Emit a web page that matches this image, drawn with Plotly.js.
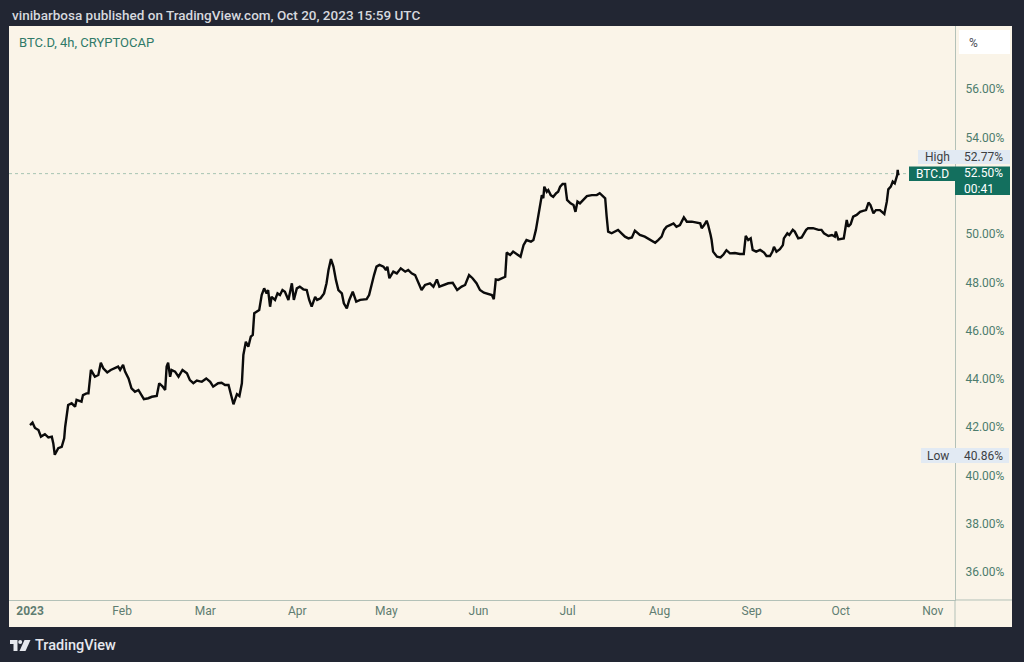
<!DOCTYPE html>
<html><head><meta charset="utf-8">
<script src="https://cdn.plot.ly/plotly-3.0.1.min.js"></script>
<style>html,body{margin:0;padding:0;background:#222633;overflow:hidden}#chart{width:1024px;height:662px}</style>
</head><body><div id="chart"></div>
<script>
const dates = [
"2023-01-01 00:00","2023-01-01 20:00","2023-01-02 16:00","2023-01-03 20:00","2023-01-04 16:00","2023-01-06 00:00","2023-01-07 04:00","2023-01-08 08:00","2023-01-08 20:00","2023-01-09 08:00",
"2023-01-10 12:00","2023-01-11 16:00","2023-01-12 12:00","2023-01-12 20:00","2023-01-13 20:00","2023-01-15 00:00","2023-01-16 04:00","2023-01-16 16:00","2023-01-18 08:00","2023-01-18 20:00",
"2023-01-20 00:00","2023-01-20 16:00","2023-01-21 12:00","2023-01-22 08:00","2023-01-22 20:00","2023-01-24 00:00","2023-01-24 20:00","2023-01-25 16:00","2023-01-27 00:00","2023-01-28 04:00",
"2023-01-29 16:00","2023-01-30 16:00","2023-01-31 08:00","2023-02-01 08:00","2023-02-02 00:00","2023-02-03 04:00","2023-02-04 04:00","2023-02-05 08:00","2023-02-06 12:00","2023-02-07 16:00",
"2023-02-08 08:00","2023-02-09 20:00","2023-02-11 00:00","2023-02-12 16:00","2023-02-13 12:00","2023-02-14 16:00","2023-02-15 12:00","2023-02-16 00:00","2023-02-16 12:00","2023-02-17 04:00",
"2023-02-17 16:00","2023-02-18 20:00","2023-02-20 00:00","2023-02-21 08:00","2023-02-22 20:00","2023-02-23 20:00","2023-02-25 00:00","2023-02-26 04:00","2023-02-27 20:00","2023-03-01 08:00",
"2023-03-02 16:00","2023-03-03 16:00","2023-03-05 08:00","2023-03-06 12:00","2023-03-07 16:00","2023-03-08 20:00","2023-03-09 12:00","2023-03-10 12:00","2023-03-11 16:00","2023-03-12 12:00",
"2023-03-13 08:00","2023-03-13 20:00","2023-03-14 16:00","2023-03-15 12:00","2023-03-16 08:00","2023-03-17 00:00","2023-03-17 12:00","2023-03-18 08:00","2023-03-19 04:00","2023-03-20 00:00",
"2023-03-20 20:00","2023-03-21 16:00","2023-03-22 04:00","2023-03-22 20:00","2023-03-23 08:00","2023-03-24 12:00","2023-03-25 08:00","2023-03-26 04:00","2023-03-27 00:00","2023-03-27 20:00",
"2023-03-29 00:00","2023-03-30 04:00","2023-03-30 20:00","2023-03-31 20:00","2023-04-01 20:00","2023-04-03 00:00","2023-04-04 04:00","2023-04-05 00:00","2023-04-05 20:00","2023-04-07 00:00",
"2023-04-07 16:00","2023-04-08 20:00","2023-04-10 00:00","2023-04-10 20:00","2023-04-11 12:00","2023-04-12 08:00","2023-04-13 04:00","2023-04-14 00:00","2023-04-14 20:00","2023-04-16 00:00",
"2023-04-16 16:00","2023-04-17 16:00","2023-04-18 12:00","2023-04-19 16:00","2023-04-20 20:00","2023-04-22 04:00","2023-04-23 04:00","2023-04-24 08:00","2023-04-25 04:00","2023-04-26 00:00",
"2023-04-26 20:00","2023-04-27 16:00","2023-04-28 16:00","2023-04-30 00:00","2023-04-30 20:00","2023-05-01 08:00","2023-05-02 00:00","2023-05-03 08:00","2023-05-04 12:00","2023-05-05 20:00",
"2023-05-07 08:00","2023-05-08 08:00","2023-05-09 12:00","2023-05-10 16:00","2023-05-11 16:00","2023-05-12 20:00","2023-05-14 00:00","2023-05-15 16:00","2023-05-16 20:00","2023-05-18 00:00",
"2023-05-18 20:00","2023-05-20 04:00","2023-05-21 20:00","2023-05-23 08:00","2023-05-24 20:00","2023-05-26 08:00","2023-05-27 12:00","2023-05-28 20:00","2023-05-30 00:00","2023-05-31 08:00",
"2023-06-01 12:00","2023-06-02 20:00","2023-06-04 08:00","2023-06-05 12:00","2023-06-06 04:00","2023-06-06 20:00","2023-06-07 16:00","2023-06-08 20:00","2023-06-10 00:00","2023-06-10 12:00",
"2023-06-11 16:00","2023-06-12 16:00","2023-06-14 08:00","2023-06-15 04:00","2023-06-16 04:00","2023-06-17 04:00","2023-06-18 16:00","2023-06-19 12:00","2023-06-20 08:00","2023-06-21 04:00",
"2023-06-21 16:00","2023-06-22 08:00","2023-06-22 20:00","2023-06-23 04:00","2023-06-24 00:00","2023-06-24 12:00","2023-06-25 08:00","2023-06-26 04:00","2023-06-27 04:00","2023-06-27 20:00",
"2023-06-28 12:00","2023-06-29 08:00","2023-06-30 04:00","2023-06-30 20:00","2023-07-02 00:00","2023-07-03 00:00","2023-07-03 16:00","2023-07-04 08:00","2023-07-05 04:00","2023-07-06 08:00",
"2023-07-07 12:00","2023-07-09 04:00","2023-07-10 20:00","2023-07-11 20:00","2023-07-13 00:00","2023-07-13 16:00","2023-07-14 04:00","2023-07-14 16:00","2023-07-15 20:00","2023-07-17 00:00",
"2023-07-18 00:00","2023-07-19 04:00","2023-07-20 08:00","2023-07-21 12:00","2023-07-22 16:00","2023-07-23 16:00","2023-07-24 12:00","2023-07-25 08:00","2023-07-27 00:00","2023-07-28 20:00",
"2023-07-30 12:00","2023-07-31 12:00","2023-08-01 16:00","2023-08-02 12:00","2023-08-03 08:00","2023-08-04 12:00","2023-08-05 16:00","2023-08-06 16:00","2023-08-07 20:00","2023-08-09 04:00",
"2023-08-10 04:00","2023-08-11 20:00","2023-08-13 12:00","2023-08-14 16:00","2023-08-15 04:00","2023-08-16 00:00","2023-08-16 20:00","2023-08-17 08:00","2023-08-18 04:00","2023-08-18 12:00",
"2023-08-19 00:00","2023-08-20 08:00","2023-08-21 12:00","2023-08-22 12:00","2023-08-23 12:00","2023-08-24 16:00","2023-08-26 08:00","2023-08-28 00:00","2023-08-29 08:00","2023-08-30 00:00",
"2023-08-30 20:00","2023-08-31 16:00","2023-09-01 08:00","2023-09-02 12:00","2023-09-03 20:00","2023-09-05 04:00","2023-09-06 00:00","2023-09-07 04:00","2023-09-08 00:00","2023-09-08 12:00",
"2023-09-09 08:00","2023-09-10 12:00","2023-09-11 12:00","2023-09-11 20:00","2023-09-13 00:00","2023-09-13 16:00","2023-09-14 20:00","2023-09-15 12:00","2023-09-16 16:00","2023-09-17 20:00",
"2023-09-19 08:00","2023-09-20 00:00","2023-09-21 16:00","2023-09-23 12:00","2023-09-24 12:00","2023-09-25 08:00","2023-09-26 20:00","2023-09-28 00:00","2023-09-29 00:00","2023-09-29 08:00",
"2023-09-30 04:00","2023-10-01 08:00","2023-10-02 00:00","2023-10-03 00:00","2023-10-03 12:00","2023-10-04 08:00","2023-10-05 04:00","2023-10-06 08:00","2023-10-07 12:00","2023-10-08 12:00",
"2023-10-09 12:00","2023-10-10 08:00","2023-10-11 00:00","2023-10-12 00:00","2023-10-12 20:00","2023-10-14 04:00","2023-10-15 16:00","2023-10-16 12:00","2023-10-17 00:00","2023-10-17 20:00",
"2023-10-18 12:00","2023-10-19 04:00","2023-10-19 16:00","2023-10-20 00:00","2023-10-20 04:00","2023-10-20 08:00","2023-10-20 12:00"
];
const btcd = [
42.09,42.19,41.97,41.88,41.61,41.71,41.58,41.61,41.33,40.86,
41.13,41.19,41.54,42.02,42.92,42.99,42.85,43.13,43.06,43.33,
43.40,43.40,44.37,44.16,44.09,44.16,44.67,44.44,44.27,44.37,
44.44,44.51,44.37,44.58,44.30,44.02,43.61,43.47,43.54,43.33,
43.16,43.20,43.26,43.29,43.82,43.68,43.54,44.51,44.67,44.09,
44.37,44.30,44.09,44.37,44.23,43.95,43.82,43.93,43.88,44.02,
43.88,43.68,43.82,43.84,43.75,43.75,43.47,42.95,43.37,43.29,
43.82,44.99,45.54,45.33,45.75,45.82,46.72,46.78,46.85,47.47,
47.75,47.54,47.68,46.99,47.40,47.27,47.54,47.47,47.68,47.61,
47.27,47.96,47.27,47.75,47.82,47.71,47.68,47.27,46.99,47.40,
47.27,47.34,47.54,47.96,48.51,48.96,48.65,48.10,47.68,47.54,
47.13,46.92,47.27,47.61,47.20,47.27,47.27,47.30,47.47,47.96,
48.30,48.65,48.72,48.65,48.51,48.65,48.17,48.44,48.37,48.58,
48.44,48.51,48.37,48.30,48.02,47.68,47.89,47.96,47.82,48.12,
47.82,47.89,47.96,47.98,47.68,47.82,47.89,48.30,48.17,47.96,
47.68,47.57,47.52,47.47,47.30,48.12,48.10,48.17,48.23,49.23,
49.13,49.27,49.13,49.06,49.54,49.75,49.68,49.75,50.17,50.72,
51.13,51.61,51.48,51.96,51.75,51.82,51.61,51.54,51.69,51.75,
51.96,52.07,52.07,51.41,51.27,51.20,50.92,51.34,51.27,51.41,
51.57,51.61,51.61,51.69,51.54,51.48,50.72,50.10,50.03,50.10,
50.17,50.03,49.89,49.82,49.86,50.14,50.03,49.96,49.89,49.75,
49.64,49.75,49.89,50.17,50.30,50.37,50.44,50.30,50.37,50.69,
50.51,50.51,50.47,50.44,50.24,50.37,50.55,50.37,49.96,49.75,
49.27,49.06,49.03,49.15,49.33,49.20,49.21,49.17,49.17,49.92,
49.75,49.82,49.34,49.27,49.34,49.23,49.09,49.09,49.27,49.47,
49.27,49.37,49.54,49.82,50.03,49.96,50.17,50.10,49.82,49.86,
50.17,50.24,50.24,50.17,50.17,50.03,49.92,49.96,49.89,50.10,
49.78,49.82,49.82,50.58,50.30,50.41,50.72,50.79,50.92,50.96,
50.99,51.30,51.20,50.86,50.99,50.99,50.83,51.34,51.85,51.96,
52.17,52.10,52.27,52.44,52.66,52.45,52.50
];
const monthTicks = ["2023-01-01","2023-02-01","2023-03-01","2023-04-01","2023-05-01","2023-06-01","2023-07-01","2023-08-01","2023-09-01","2023-10-01","2023-11-01"];
const monthLabels = ["<b>2023</b>","Feb","Mar","Apr","May","Jun","Jul","Aug","Sep","Oct","Nov"];
const priceTicks = [36,38,40,42,44,46,48,50,54,56];
const priceLabels = ["36.00%","38.00%","40.00%","42.00%","44.00%","46.00%","48.00%","50.00%","54.00%","56.00%"];
const lastValueLabel = "52.50%";
const lastValue = 52.50;
const countdownLabel = "00:41";
const highLabel = "52.77%";
const lowLabel = "40.86%";
const symbolName = "BTC.D";
const symbolInfo = "BTC.D, 4h, CRYPTOCAP";
const headerText = "vinibarbosa published on TradingView.com, Oct 20, 2023 15:59 UTC";
const brandText = "TradingView";

const L = 9, T = 26, W = 946, H = 574;
const fx = X => (X - L) / W;
const fy = Y => (T + H - Y) / H;
const FONT = "Roboto, 'Open Sans', sans-serif";
const pale = "#e2eaf3", teal = "#136f5e", cream = "#faf4e8", sep = "#b3c1b8";

function rect(x0, y0, x1, y1, fill, layer) {
  return {type: "rect", xref: "paper", yref: "paper", x0: fx(x0), x1: fx(x1), y0: fy(y1), y1: fy(y0),
    fillcolor: fill, line: {width: 0}, layer: layer || "above"};
}
function pathShape(pts, fill) {
  const d = pts.map((p, i) => (i ? "L" : "M") + fx(p[0]) + "," + fy(p[1])).join(" ") + " Z";
  return {type: "path", xref: "paper", yref: "paper", path: d, fillcolor: fill, line: {width: 0}, layer: "above"};
}
function txt(x, y, text, opts) {
  return Object.assign({xref: "paper", yref: "paper", x: fx(x), y: fy(y), text: text, showarrow: false,
    xanchor: "left", yanchor: "middle", font: {family: FONT, size: 12, color: "#3c4043"}}, opts || {});
}

const shapes = [
  rect(9, 26, 1012, 627, cream, "below"),
  {type: "line", xref: "paper", yref: "paper", x0: fx(955), x1: fx(955), y0: fy(627), y1: fy(600), line: {color: sep, width: 1}},
  {type: "line", xref: "paper", yref: "paper", x0: fx(955), x1: fx(1012), y0: fy(600), y1: fy(600), line: {color: sep, width: 1}},
  {type: "line", xref: "paper", yref: "y", x0: 0, x1: 1, y0: lastValue, y1: lastValue, line: {color: "#a6c4b3", width: 1, dash: "dot"}, layer: "below"},
  rect(959, 30, 1010, 54, "#ffffff"),
  rect(918, 150, 955, 164, pale),
  rect(955, 150, 1010, 164, pale),
  rect(909, 166.5, 955, 181, teal),
  rect(955, 166.5, 1010, 195, teal),
  rect(921, 448, 955, 463, pale),
  rect(955, 448, 1009, 463, pale),
  pathShape([[10,640],[17.5,640],[17.5,651],[13.5,651],[13.5,644],[10,644]], "#e6e8ee"),
  {type: "circle", xref: "paper", yref: "paper", x0: fx(18.2), x1: fx(22.2), y0: fy(644), y1: fy(640), fillcolor: "#e6e8ee", line: {width: 0}, layer: "above"},
  pathShape([[24.5,640],[30.5,640],[25.5,651],[19.5,651]], "#e6e8ee")
];

const annotations = [
  txt(10, 15, headerText, {font: {family: FONT, size: 13.5, color: "#d6d8de", weight: 500}}),
  txt(17, 43, symbolInfo, {font: {family: FONT, size: 13, color: "#2f7a68"}}),
  txt(967, 43, "%", {font: {family: FONT, size: 12, color: "#4a4e55"}}),
  txt(937, 157, "High", {xanchor: "center", font: {family: FONT, size: 12, color: "#3c4043"}}),
  txt(962, 157, highLabel, {font: {family: FONT, size: 12, color: "#3c4043"}}),
  txt(932, 174, symbolName, {xanchor: "center", font: {family: FONT, size: 12, color: "#ffffff"}}),
  txt(962, 181, lastValueLabel + "<br>" + countdownLabel, {align: "left", font: {family: FONT, size: 12, color: "#ffffff"}}),
  txt(938, 456, "Low", {xanchor: "center", font: {family: FONT, size: 12, color: "#3c4043"}}),
  txt(962, 456, lowLabel, {font: {family: FONT, size: 12, color: "#3c4043"}}),
  txt(33, 645, brandText, {font: {family: FONT, size: 14.5, color: "#e6e8ee", weight: 500}})
];

const trace = {type: "scatter", mode: "lines", x: dates, y: btcd,
  line: {color: "#0b0b0b", width: 2.4}, hoverinfo: "skip", showlegend: false};

const layout = {
  width: 1024, height: 662,
  margin: {l: L, r: 1024 - (L + W), t: T, b: 662 - (T + H), pad: 0},
  paper_bgcolor: "#222633", plot_bgcolor: cream,
  showlegend: false,
  xaxis: {type: "date", range: ["2022-12-24 22:00", "2023-11-08 11:00"], tickmode: "array",
    tickvals: monthTicks, ticktext: monthLabels, showgrid: false, zeroline: false,
    showline: true, linecolor: sep, linewidth: 1, ticks: "",
    tickfont: {family: FONT, size: 12, color: "#5f7d71"}, fixedrange: true},
  yaxis: {side: "right", range: [34.845, 58.613], tickmode: "array", tickvals: priceTicks, ticktext: priceLabels,
    showgrid: false, zeroline: false, showline: true, linecolor: sep, linewidth: 1, ticks: "",
    ticklabelstandoff: 7, tickfont: {family: FONT, size: 12, color: "#4d7c6d"}, fixedrange: true},
  shapes: shapes,
  annotations: annotations
};

Plotly.newPlot("chart", [trace], layout, {staticPlot: true, displayModeBar: false});
</script>
</body></html>
